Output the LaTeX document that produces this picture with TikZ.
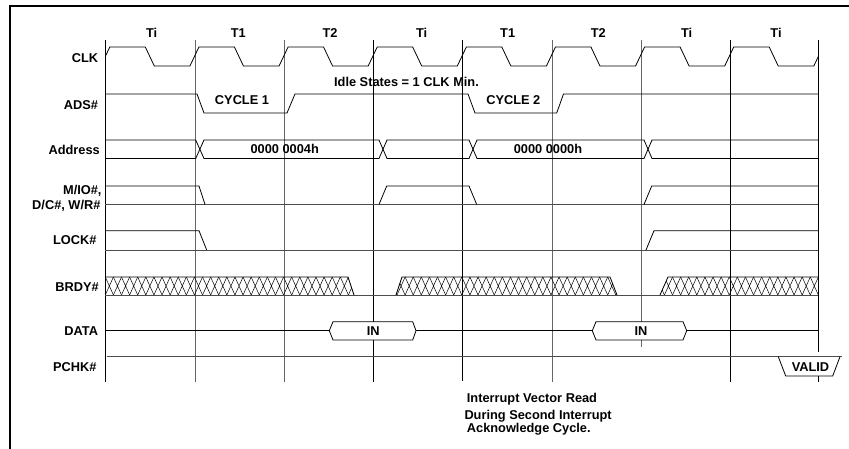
\documentclass[tikz,border=0pt]{standalone}
\usepackage{fontspec}
\setmainfont{Liberation Sans}
\begin{document}
\begin{tikzpicture}[x=1pt,y=-1pt,
  font=\fontsize{12.8}{14}\selectfont\bfseries,
  sig/.style={line width=0.8pt},
  baseline sig/.style={line width=0.8pt, black!70},
  hatch/.style={line width=0.5pt},
  grid/.style={line width=0.9pt},
  gridgray/.style={line width=1pt, black!60},
  lbl/.style={inner sep=0pt, text height=9.2pt, text depth=0pt}]

\useasboundingbox (0,0) rectangle (849,449);

% Frame
\draw[line width=2pt] (10,449) -- (10,6) -- (849,6);

% Clock edges
\draw[grid] (105.3,40) -- (105.3,382);
\draw[gridgray] (195,40) -- (195,382);
\draw[gridgray] (284.2,40) -- (284.2,382);
\draw[grid] (373.3,40) -- (373.3,321.7);
\draw[grid] (373.3,340) -- (373.3,382);
\draw[grid] (462.7,40) -- (462.7,381);
\draw[gridgray] (552.3,40) -- (552.3,382);
\draw[gridgray] (641,40) -- (641,321.7);
\draw[gridgray] (641,340) -- (641,347);
\draw[grid] (730.5,40) -- (730.5,382);
\draw[grid] (818.3,40) -- (818.3,352);
\draw[grid] (818.3,376) -- (818.3,382);

% States
\foreach \x/\t [count=\k] in {151.7/Ti, 238.3/T1, 330/T2, 421.7/Ti,
                              507.7/T1, 598.3/T2, 686.7/Ti, 776/Ti}
  \node[lbl] (state\k) at (\x,33) {\t};

% Signal names
\node[lbl, anchor=east] (clk) at (98.3,58) {CLK};
\node[lbl, anchor=east] (ads) at (98.3,105) {ADS\#};
\node[lbl, anchor=east] (addr) at (100,150) {Address};
\node[lbl, anchor=east] (mio) at (101.7,190) {M/IO\#,};
\node[lbl, anchor=east] (dcwr) at (100.7,205) {D/C\#, W/R\#};
\node[lbl, anchor=east] (lock) at (96.7,240) {LOCK\#};
\node[lbl, anchor=east] (brdy) at (99,287) {BRDY\#};
\node[lbl, anchor=east] (data) at (98.3,330.7) {DATA};
\node[lbl, anchor=east] (pchk) at (96.7,367) {PCHK\#};

% CLK
\draw[sig] (105.3,56.5) foreach \i in {0,...,7} {
  -- ({105.3+89.13*\i+4.5},47) -- ({105.3+89.13*\i+40},47)
  -- ({105.3+89.13*\i+49},66) -- ({105.3+89.13*(\i+1)-4.5},66)}
  -- (818.3,56.5);

\node[lbl] (idle) at (406.5,81.7) {Idle States = 1 CLK Min.};

% ADS#
\draw[sig] (105.3,94) -- (197,94) -- (204,113) -- (287,113) -- (295,94)
  -- (468,94) -- (475,113) -- (556.7,113) -- (563.5,94) -- (818.3,94);
\node[lbl] (cyc1) at (242,100) {CYCLE 1};
\node[lbl] (cyc2) at (513.3,99.7) {CYCLE 2};

% Address
\draw[sig] (105.3,140) -- (195.7,140) -- (204,158.5) -- (379,158.5)
  -- (387,140) -- (469,140) -- (477,158.5) -- (644,158.5) -- (652,140)
  -- (818.3,140);
\draw[sig] (105.3,158.5) -- (195.7,158.5) -- (204,140) -- (379,140)
  -- (387,158.5) -- (469,158.5) -- (477,140) -- (644,140) -- (652,158.5)
  -- (818.3,158.5);
\node[lbl] (adr1) at (284.7,149.3) {0000 0004h};
\node[lbl] (adr2) at (548,149.3) {0000 0000h};

% M/IO#, D/C#, W/R#
\draw[baseline sig] (105.3,204.5) -- (818.3,204.5);
\draw[sig] (105.3,186) -- (199,186) -- (205,204.5);
\draw[sig] (379,204.5) -- (386.7,186) -- (469,186) -- (476.7,204.5);
\draw[sig] (644,204.5) -- (651.7,186) -- (818.3,186);

% LOCK#
\draw[baseline sig] (105.3,250) -- (818.3,250);
\draw[sig] (105.3,230.7) -- (199,230.7) -- (206.7,250);
\draw[sig] (646,250) -- (654,230.7) -- (818.3,230.7);

% BRDY#
\begin{scope}
\clip (105.3,277) -- (348,277) -- (354,295) -- (105.3,295) -- cycle
      (396,295) -- (402,277) -- (610,277) -- (617,295) -- cycle
      (660,295) -- (668,277) -- (818.3,277) -- (818.3,295) -- cycle;
\foreach \k in {0,...,87}
  \draw[hatch] ({105.3+8.103*\k},277) -- ({105.3+8.103*(\k+1)},295)
               ({105.3+8.103*(\k+1)},277) -- ({105.3+8.103*\k},295);
\end{scope}
\draw[baseline sig] (105.3,295) -- (818.3,295);
\draw[sig] (105.3,277) -- (348,277) -- (354,295);
\draw[sig] (396,295) -- (402,277) -- (610,277) -- (617,295);
\draw[sig] (660,295) -- (668,277) -- (818.3,277);

% DATA
\draw[sig] (105.3,330.7) -- (329.3,330.7);
\draw[sig] (416,330.7) -- (592.3,330.7);
\draw[sig] (686.7,330.7) -- (818.3,330.7);
\draw[sig] (329.3,330.7) -- (333,321.7) -- (412.7,321.7) -- (416,330.7)
  -- (412.7,340) -- (333,340) -- cycle;
\draw[sig] (592.3,330.7) -- (596,321.7) -- (683,321.7) -- (686.7,330.7)
  -- (683,340) -- (596,340) -- cycle;
\node[lbl] (in1) at (373.3,330.8) {IN};
\node[lbl] (in2) at (641,330.8) {IN};

% PCHK#
\draw[baseline sig] (107.3,356.7) -- (841.7,356.7);
\draw[sig] (778.3,356.7) -- (785.7,376) -- (832.7,376) -- (840,356.7);
\node[lbl] (valid) at (810.5,367) {VALID};

% Note
\node[lbl, anchor=west] (note1) at (466.7,398.3) {Interrupt Vector Read};
\node[lbl, anchor=west] (note2) at (464.3,415) {During Second Interrupt};
\node[lbl, anchor=west] (note3) at (466.7,428.3) {Acknowledge Cycle.};

\end{tikzpicture}
\end{document}
